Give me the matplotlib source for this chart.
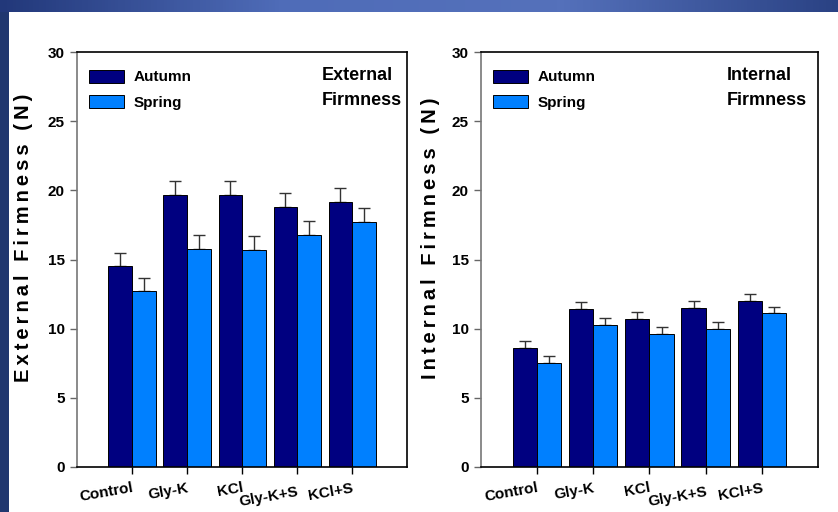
import numpy as np
import matplotlib.pyplot as plt
from matplotlib.colors import LinearSegmentedColormap
from matplotlib.transforms import ScaledTranslation

plt.rcParams['font.family'] = ['Liberation Sans', 'DejaVu Sans']
plt.rcParams['font.weight'] = 'bold'

# Treatments and firmness means (N), error = 1 SE (upper only)
treatments = ['Control', 'Gly-K', 'KCl', 'Gly-K+S', 'KCl+S']
ext_autumn = [14.5, 19.7, 19.7, 18.8, 19.2]
ext_spring = [12.7, 15.8, 15.7, 16.8, 17.7]
ext_autumn_err = [1.0, 1.0, 1.0, 1.0, 1.0]
ext_spring_err = [1.0, 1.0, 1.0, 1.0, 1.0]
int_autumn = [8.6, 11.4, 10.7, 11.5, 12.0]
int_spring = [7.5, 10.3, 9.6, 10.0, 11.1]
int_autumn_err = [0.5, 0.5, 0.5, 0.5, 0.5]
int_spring_err = [0.5, 0.5, 0.5, 0.5, 0.5]

autumn_color = '#000080'
spring_color = '#0080ff'

fig = plt.figure(figsize=(8.38, 5.12), dpi=100)
fig.patch.set_facecolor('white')

# slide-style blue border along the top and left edge
bg = fig.add_axes([0, 0, 1, 1], zorder=-10)
bg.set_xlim(0, 838)
bg.set_ylim(512, 0)
bg.axis('off')
band = LinearSegmentedColormap.from_list('band', ['#22387a', '#4f6cb8', '#5571bb', '#2a4284'])
grad = np.linspace(0, 1, 256).reshape(1, -1)
bg.imshow(grad, cmap=band, extent=[0, 838, 12, 0], aspect='auto')
bg.fill_between([0, 9], 12, 512, color='#20376f', lw=0)


def spaced(s):
    # loose letter spacing for the axis titles
    return '\u2009'.join(s)


def panel(rect, autumn, spring, a_err, s_err, ylabel, title, label_x, title_x):
    ax = fig.add_axes(rect)
    x = np.arange(len(treatments))
    w = 0.43
    ax.bar(x - w / 2, autumn, w, color=autumn_color, edgecolor='black', lw=0.7,
           label='Autumn', zorder=2)
    ax.bar(x + w / 2, spring, w, color=spring_color, edgecolor='black', lw=0.7,
           label='Spring', zorder=2)
    ax.errorbar(x - w / 2, autumn, yerr=[np.zeros(len(x)), a_err], fmt='none',
                ecolor='#333333', elinewidth=1, capsize=4.3, capthick=1, zorder=1)
    ax.errorbar(x + w / 2, spring, yerr=[np.zeros(len(x)), s_err], fmt='none',
                ecolor='#333333', elinewidth=1, capsize=4.3, capthick=1, zorder=1)
    ax.set_xlim(-1, 5)
    ax.set_ylim(0, 30)
    ax.set_yticks([0, 5, 10, 15, 20, 25, 30])
    ax.set_xticks(x)
    ax.set_xticklabels(treatments, rotation=10, fontsize=11, fontweight='bold',
                       ha='right', rotation_mode='anchor')
    ax.tick_params(axis='y', labelsize=11, length=5, width=1, color='#666666', pad=4)
    ax.tick_params(axis='x', length=5, width=1, pad=5)
    ax.spines['left'].set_color('#777777')
    ax.spines['left'].set_linewidth(1.2)
    for s in ['top', 'right', 'bottom']:
        ax.spines[s].set_linewidth(1.2)
    ax.set_ylabel(spaced(ylabel), fontsize=14.5, fontweight='bold')
    ax.yaxis.set_label_coords(label_x, 0.552)
    ax.text(title_x, 0.965, title, transform=ax.transAxes, ha='left', va='top',
            fontsize=13, fontweight='bold', linespacing=1.6)
    ax.legend(loc='upper left', bbox_to_anchor=(0.036, 0.958), frameon=False,
              fontsize=11, handlelength=2.3, handleheight=0.95,
              handletextpad=0.6, labelspacing=0.7, borderaxespad=0, borderpad=0)
    # the Gly-K+S label sits a little lower than its neighbours
    lab = ax.get_xticklabels()[3]
    lab.set_transform(lab.get_transform() + ScaledTranslation(0, -3 / 72, fig.dpi_scale_trans))
    return ax


ax1 = panel([0.092, 0.088, 0.394, 0.810], ext_autumn, ext_spring,
            ext_autumn_err, ext_spring_err, 'External Firmness (N)', 'External\nFirmness',
            -0.133, 0.74)
ax2 = panel([0.574, 0.088, 0.402, 0.810], int_autumn, int_spring,
            int_autumn_err, int_spring_err, 'Internal Firmness (N)', 'Internal\nFirmness',
            -0.122, 0.73)

fig.savefig('out.png', dpi=100, facecolor=fig.get_facecolor())
